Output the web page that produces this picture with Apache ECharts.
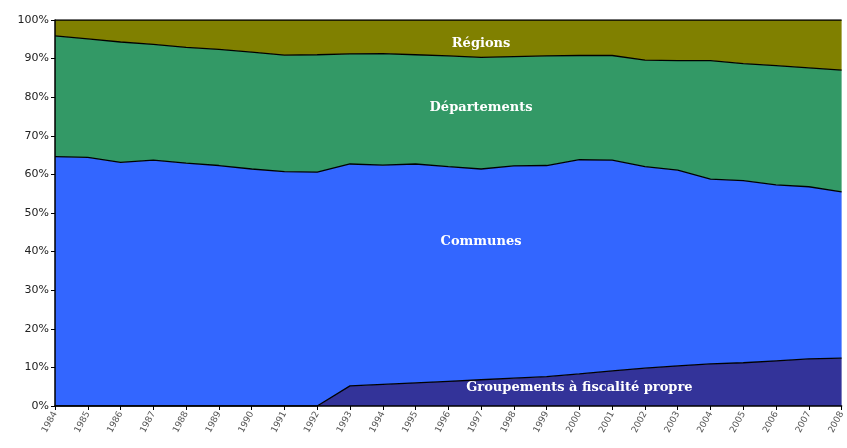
<!DOCTYPE html>
<html>
<head>
<meta charset="utf-8">
<script src="https://cdn.jsdelivr.net/npm/echarts@6/dist/echarts.min.js"></script>
<style>
  html, body { margin: 0; padding: 0; background: #fff; }
  #main { width: 847px; height: 448px; }
</style>
</head>
<body>
<div id="main"></div>
<script>
// années
var years = ['1984','1985','1986','1987','1988','1989','1990','1991','1992','1993','1994','1995',
  '1996','1997','1998','1999','2000','2001','2002','2003','2004','2005','2006','2007','2008'];

// parts (en %) de chaque niveau
var groupements = [0, 0, 0, 0, 0, 0, 0, 0, 0, 5.2, 5.6, 6.0, 6.4, 6.8, 7.2, 7.6, 8.3, 9.1, 9.8, 10.4, 10.9, 11.2, 11.7, 12.2, 12.4];
var communes = [64.6, 64.4, 63.1, 63.7, 62.9, 62.3, 61.4, 60.7, 60.6, 57.5, 56.8, 56.7, 55.6, 54.6, 55.0, 54.7, 55.5, 54.6, 52.2, 50.7, 47.9, 47.2, 45.6, 44.6, 43.1];
var departements = [31.3, 30.7, 31.2, 30.0, 30.0, 30.1, 30.3, 30.2, 30.4, 28.5, 28.9, 28.3, 28.7, 28.9, 28.3, 28.4, 27.0, 27.1, 27.6, 28.4, 30.7, 30.3, 30.9, 30.8, 31.5];
var regions = [4.1, 4.9, 5.7, 6.3, 7.1, 7.6, 8.3, 9.1, 9.0, 8.8, 8.7, 9.0, 9.3, 9.7, 9.5, 9.3, 9.2, 9.2, 10.4, 10.5, 10.5, 11.3, 11.8, 12.4, 13.0];

var names = ['Groupements à fiscalité propre', 'Communes', 'Départements', 'Régions'];
var colors = ['#333399', '#3366ff', '#339966', '#808000'];

// où poser le nom de chaque couche (indice d'année, valeur cumulée)
var labelAnchors = [[15.9, 4.7], [13.1, 42.5], [13.2, 77.2], [12.6, 94.0]];

var chart = echarts.init(document.getElementById('main'));

function area(name, data, color) {
  return {
    name: name,
    type: 'line',
    stack: 'total',
    data: data,
    showSymbol: false,
    symbol: 'none',
    lineStyle: { color: '#000', width: 1.3 },
    areaStyle: { color: color, opacity: 1 },
    emphasis: { disabled: true },
    z: 2
  };
}

chart.setOption({
  animation: false,
  backgroundColor: '#fff',
  grid: { left: 55, right: 1, top: 20, bottom: 42 },
  xAxis: {
    type: 'category',
    data: years,
    boundaryGap: false,
    axisLine: { lineStyle: { color: '#000', width: 1.5 } },
    axisTick: { show: true, length: 4, lineStyle: { color: '#000' } },
    axisLabel: {
      rotate: 62, fontSize: 9, color: '#555', margin: 6,
      fontFamily: 'DejaVu Sans', interval: 0
    },
    z: 5
  },
  yAxis: {
    type: 'value',
    min: 0, max: 100, interval: 10,
    axisLine: { show: true, lineStyle: { color: '#000', width: 1.5 } },
    axisTick: { show: true, length: 4, lineStyle: { color: '#000' } },
    axisLabel: {
      formatter: '{value}%', fontSize: 11, color: '#222',
      fontFamily: 'DejaVu Sans', margin: 6
    },
    splitLine: { show: false },
    z: 5
  },
  series: [
    area(names[0], groupements, colors[0]),
    area(names[1], communes, colors[1]),
    area(names[2], departements, colors[2]),
    area(names[3], regions, colors[3])
  ]
});

// noms des couches en blanc, placés via l'échelle du graphique
var texts = names.map(function (n, i) {
  var p = chart.convertToPixel({ gridIndex: 0 }, labelAnchors[i]);
  return {
    type: 'text',
    x: p[0], y: p[1],
    z: 10,
    style: {
      text: n,
      fill: '#fff',
      font: 'bold 13px "DejaVu Serif"',
      textAlign: 'center',
      textVerticalAlign: 'middle'
    }
  };
});
chart.setOption({ graphic: texts });
</script>
</body>
</html>
